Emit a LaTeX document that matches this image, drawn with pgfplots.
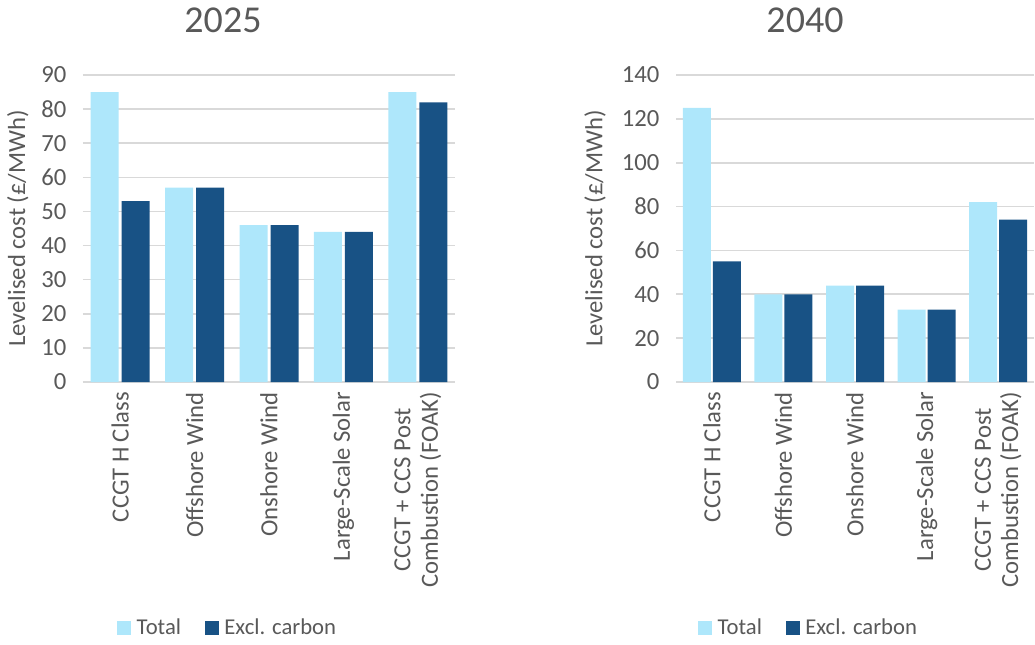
\documentclass[border=0pt]{standalone}
\usepackage{pgfplots}
\pgfplotsset{compat=1.18}
\usepackage{fontspec}
\setmainfont{Carlito}
\definecolor{lightb}{HTML}{AEE7FB}
\definecolor{darkb}{HTML}{185285}
\definecolor{txt}{HTML}{595959}
\definecolor{gridc}{HTML}{D9D9D9}
\pgfplotsset{
  sqlegend/.style={legend image code/.code={\fill[##1] (0pt,-5.25pt) rectangle (10.5pt,5.25pt);}},
  mystyle/.style={
    scale only axis, height=230.25pt,
    bar width=21pt,
    xmin=-0.5, xmax=4.5, ymin=0,
    xtick={0,...,4},
    xticklabels={CCGT H Class, Offshore Wind, Onshore Wind, Large-Scale Solar, {CCGT + CCS Post\\Combustion (FOAK)}},
    axis line style={draw=none},
    major tick length=0pt,
    ymajorgrids, grid style={gridc, line width=1.2pt},
    tick label style={font=\fontsize{18.5}{20.5}\selectfont, text=txt},
    /pgf/number format/assume math mode=true,
    xticklabel style={rotate=90, anchor=east, align=center},
    xticklabel shift=4pt,
    yticklabel shift=9pt,
    ylabel={Levelised cost (£/MWh)},
    legend style={draw=none, legend columns=2, font=\fontsize{17}{19}\selectfont, text=txt,
      /tikz/every odd column/.append style={column sep=2pt},
      /tikz/every even column/.append style={column sep=16pt}, anchor=center},
  }
}
\begin{document}
\begin{tikzpicture}
\useasboundingbox (0,0) rectangle (776.25pt,483pt);
\begin{axis}[mystyle, at={(62.25pt,196.5pt)}, anchor=south west, width=279pt,
  ybar=2.25pt, ymax=90, ytick={0,10,...,90},
  every axis y label/.style={at={(axis description cs:-0.175,0.5)}, rotate=90, anchor=center, font=\fontsize{18.5}{20.5}\selectfont, text=txt},
  legend style={at={(axis description cs:0.39,-0.80)}}]
\addplot[fill=lightb, draw=none, sqlegend] coordinates {(0,85) (1,57) (2,46) (3,44) (4,85)};
\addplot[fill=darkb, draw=none, sqlegend] coordinates {(0,53) (1,57) (2,46) (3,44) (4,82)};
\legend{Total, Excl. carbon}
\end{axis}
\begin{axis}[mystyle, at={(507pt,196.5pt)}, anchor=south west, width=268.5pt,
  ybar=1.5pt, ymax=140, ytick={0,20,...,140},
  every axis y label/.style={at={(axis description cs:-0.226,0.5)}, rotate=90, anchor=center, font=\fontsize{18.5}{20.5}\selectfont, text=txt},
  legend style={at={(axis description cs:0.3715,-0.80)}}]
\addplot[fill=lightb, draw=none, sqlegend] coordinates {(0,125) (1,40) (2,44) (3,33) (4,82)};
\addplot[fill=darkb, draw=none, sqlegend] coordinates {(0,55) (1,40) (2,44) (3,33) (4,74)};
\legend{Total, Excl. carbon}
\end{axis}
\node[text=txt, font=\fontsize{28.5}{32}\selectfont] at (167.25pt,468pt) {2025};
\node[text=txt, font=\fontsize{28.5}{32}\selectfont] at (603.75pt,468pt) {2040};
\end{tikzpicture}
\end{document}
